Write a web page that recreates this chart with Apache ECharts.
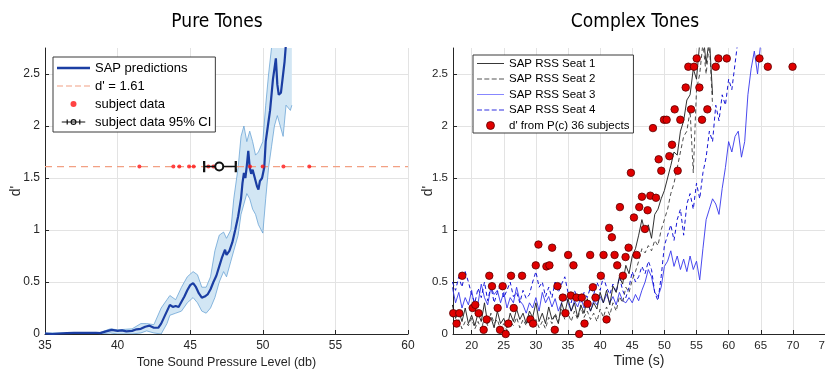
<!DOCTYPE html>
<html><head><meta charset="utf-8">
<script src="https://cdn.jsdelivr.net/npm/echarts@6/dist/echarts.min.js"></script>
<style>html,body{margin:0;padding:0;background:#fff;overflow:hidden}#c{width:825px;height:371px}</style>
</head><body><div id="c"></div><script>
// ---------- Left panel: Pure Tones ----------
const ptTicksX = [35, 40, 45, 50, 55, 60];
const dTicks = [0, 0.5, 1, 1.5, 2, 2.5];
const sapX = [35.0,35.5,36.0,36.5,37.0,37.5,38.0,38.5,38.8,39.2,
 39.6,40.0,40.3,40.6,41.0,41.3,41.6,41.9,42.2,42.5,
 42.8,43.0,43.2,43.4,43.6,43.8,44.0,44.2,44.4,44.6,
 44.8,45.0,45.2,45.4,45.6,45.8,46.0,46.2,46.4,46.6,
 46.8,47.0,47.2,47.4,47.5,47.7,47.9,48.1,48.3,48.5,
 48.6,48.7,48.8,48.9,49.0,49.1,49.2,49.3,49.45,49.6,
 49.7,49.8,49.95,50.1,50.2,50.35,50.5,50.6,50.7,50.8,
 50.9,51.0,51.1,51.25,51.4,51.5,51.6];
const sapY = [0.005,0.0,0.005,0.008,0.01,0.012,0.01,0.012,0.008,0.025,
 0.04,0.03,0.035,0.025,0.03,0.045,0.05,0.07,0.08,0.06,
 0.06,0.10,0.16,0.22,0.28,0.26,0.27,0.26,0.31,0.36,
 0.42,0.47,0.49,0.45,0.39,0.35,0.36,0.38,0.43,0.50,
 0.56,0.65,0.74,0.81,0.76,0.80,0.88,1.00,1.13,1.30,
 1.45,1.55,1.50,1.62,1.76,1.60,1.54,1.58,1.50,1.42,
 1.39,1.47,1.50,1.60,1.85,2.00,2.15,2.30,2.45,2.55,
 2.65,2.40,2.30,2.32,2.50,2.62,2.80];
const ciX = [35.0,38.8,39.5,40.0,41.0,41.6,42.0,42.5,43.0,43.4,43.6,44.0,44.4,44.8,45.2,45.5,45.8,46.1,46.4,46.7,47.0,47.3,47.5,47.8,48.0,48.3,48.5,48.7,48.9,49.1,49.3,49.5,49.7,50.0,50.2,50.4,50.6,50.8,51.0,51.2,51.4,51.6,51.9,52.0];
const ciLow = [0.0,0.0,0.01,0.0,0.0,0.01,0.03,0.01,0.0,0.10,0.18,0.20,0.22,0.30,0.35,0.30,0.22,0.20,0.25,0.35,0.50,0.60,0.55,0.70,0.80,0.95,1.15,1.25,1.35,1.30,1.20,1.15,1.05,0.97,1.30,1.60,1.80,2.00,2.10,2.00,1.90,2.20,2.15,2.20];
const ciHigh = [0.01,0.015,0.05,0.04,0.05,0.10,0.10,0.09,0.25,0.33,0.37,0.33,0.45,0.55,0.60,0.57,0.45,0.45,0.55,0.80,0.95,0.98,0.92,1.00,1.30,1.60,1.90,2.00,1.85,1.95,1.85,1.72,1.75,1.85,2.20,2.50,2.75,2.90,2.90,2.90,2.95,2.90,3.00,3.00];
const criterionD = 1.61;
const subjX = [41.5,43.84,44.25,44.92,45.24,46.25,46.6,49.12,49.99,51.42,53.2];
const subjMean = 47.0, subjCILow = 45.96, subjCIHigh = 48.14;

// ---------- Right panel: Complex Tones ----------
const ctTicksX = [20, 25, 30, 35, 40, 45, 50, 55, 60, 65, 70, 75];
const timeS = [17,17.5,18,18.5,19,19.5,20,20.5,21,21.5,22,22.5,23,23.5,24,24.5,25,25.5,26,26.5,27,27.5,28,28.5,29,29.5,30,30.5,31,31.5,32,32.5,33,33.5,34,34.5,35,35.5,36,36.5,37,37.5,38,38.5,39,39.5,40,40.5,41,41.5,42,42.5,43,43.5,44,44.5,45,45.5,46,46.5,47,47.5,48,48.5,49,49.5,50,50.5,51,51.5,52,52.5,53,53.5,54,54.5,55,55.5,56,56.5,57,57.5,58,58.5,59,59.5,60,60.5,61,61.5,62,62.5,63,63.5,64,64.5,65,65.5,66];
const seat1 = [0.28,0.15,0.22,0.12,0.25,0.10,0.18,0.08,0.20,0.12,
 0.30,0.10,0.16,0.06,0.22,0.10,0.15,0.06,0.20,0.12,
 0.24,0.14,0.20,0.10,0.22,0.16,0.30,0.12,0.20,0.10,
 0.26,0.14,0.18,0.10,0.30,0.20,0.34,0.22,0.30,0.16,
 0.28,0.20,0.34,0.22,0.30,0.24,0.40,0.30,0.42,0.28,
 0.46,0.40,0.55,0.48,0.66,0.58,0.75,0.82,0.95,1.10,
 0.98,1.05,0.92,1.15,1.20,1.30,1.38,1.50,1.62,1.75,
 1.72,1.95,2.05,2.25,2.30,2.55,2.45,2.80,2.90,2.60,
 2.85,2.30];
const seat2 = [0.18,0.10,0.14,0.05,0.12,0.08,0.15,0.05,0.12,0.04,
 0.16,0.08,0.20,0.10,0.14,0.04,0.10,0.03,0.12,0.08,
 0.16,0.06,0.14,0.08,0.18,0.10,0.14,0.06,0.12,0.05,
 0.16,0.10,0.20,0.12,0.24,0.14,0.20,0.12,0.22,0.14,
 0.26,0.16,0.22,0.14,0.20,0.12,0.24,0.16,0.26,0.18,
 0.30,0.22,0.36,0.30,0.45,0.40,0.52,0.60,0.70,0.82,
 0.78,0.85,0.80,0.90,0.85,1.00,1.10,1.20,1.35,1.45,
 1.60,1.75,1.90,1.95,2.15,1.55,2.35,2.50,2.80,2.50,
 2.80,2.20];
const seat3 = [0.45,0.30,0.40,0.25,0.35,0.28,0.42,0.25,0.30,0.48,
 0.35,0.28,0.45,0.38,0.42,0.30,0.40,0.25,0.35,0.30,
 0.45,0.32,0.28,0.20,0.30,0.25,0.35,0.22,0.40,0.30,
 0.36,0.26,0.34,0.22,0.30,0.38,0.30,0.22,0.32,0.26,
 0.35,0.25,0.30,0.22,0.32,0.28,0.36,0.30,0.38,0.30,
 0.36,0.28,0.40,0.32,0.30,0.35,0.30,0.38,0.32,0.42,
 0.50,0.62,0.55,0.40,0.36,0.45,0.65,0.70,0.80,0.65,
 0.75,0.62,0.72,0.60,0.75,0.62,0.70,0.52,0.82,1.10,
 1.20,1.30,1.25,1.15,1.40,1.60,1.85,1.75,1.90,1.95,
 1.70,1.85,2.30,2.55,2.72,2.50,2.80,2.90,2.90];
const seat4 = [0.50,0.42,0.55,0.45,0.60,0.50,0.38,0.30,0.44,0.35,
 0.50,0.32,0.46,0.30,0.40,0.48,0.35,0.42,0.50,0.36,
 0.40,0.30,0.42,0.34,0.38,0.50,0.60,0.45,0.50,0.36,
 0.45,0.35,0.50,0.40,0.48,0.55,0.40,0.30,0.42,0.34,
 0.30,0.40,0.35,0.45,0.38,0.50,0.42,0.55,0.45,0.38,
 0.48,0.40,0.55,0.42,0.35,0.45,0.60,0.50,0.55,0.65,
 0.58,0.70,0.62,0.40,0.32,0.55,0.85,0.95,1.05,0.90,
 1.10,1.20,0.95,1.25,1.35,1.20,1.45,1.30,1.55,1.70,
 1.95,1.85,2.20,2.05,2.30,2.20,2.45,2.35,2.60,2.85,
 2.90];
const dotT = [17.14,17.66,18.08,18.54,20.16,20.57,21.09,21.87,22.34,22.75,
 23.17,24.05,24.42,24.83,25.30,25.72,26.13,26.55,27.85,29.15,
 29.56,29.98,30.40,31.64,32.11,32.53,32.94,33.36,34.19,34.60,
 35.02,35.44,35.85,36.32,36.74,37.15,37.57,38.04,38.45,38.87,
 39.28,40.11,40.53,41.00,41.41,41.83,42.25,42.66,43.08,43.55,
 43.96,44.43,44.79,45.26,45.68,46.09,46.51,46.97,47.39,47.81,
 48.22,48.69,49.11,49.52,49.94,50.35,50.77,51.19,51.60,52.07,
 52.48,53.32,53.73,54.15,54.61,55.03,55.45,55.86,56.69,57.99,
 58.41,59.71,64.80,66.10,69.95];
const dotD = [0.20,0.10,0.20,0.56,0.25,0.28,0.20,0.04,0.14,0.56,
 0.46,0.25,0.04,0.46,0.00,0.10,0.56,0.25,0.56,0.14,
 0.10,0.66,0.86,0.65,0.66,0.83,0.04,0.46,0.35,0.20,
 0.76,0.37,0.66,0.35,0.00,0.35,0.10,0.29,0.76,0.45,
 0.35,0.56,0.76,0.14,1.02,0.93,0.76,0.66,1.22,0.56,
 0.74,0.83,1.55,1.12,0.76,1.22,1.32,1.01,1.19,1.33,
 1.98,1.31,1.68,1.57,2.06,2.06,1.71,1.82,2.16,1.57,
 2.06,2.37,2.57,2.16,2.57,2.65,2.37,2.06,2.16,2.57,
 2.65,2.65,2.65,2.57,2.57];

// ---------- build ----------
const pairs = (xs, ys) => xs.map((x, i) => [x, ys[i]]);
const onTime = (vals) => vals.map((v, i) => [timeS[i], v]);
const FONT = "'Liberation Sans', Arial, sans-serif";

function hasFont(f) {
  const ctx = document.createElement('canvas').getContext('2d');
  const s = 'Pure Tones Complex abcdefghijkmw';
  ctx.font = '40px monospace'; const w0 = ctx.measureText(s).width;
  ctx.font = "40px '" + f + "', monospace"; const w1 = ctx.measureText(s).width;
  return Math.abs(w1 - w0) > 0.5;
}
let TITLE_FONT = "'Liberation Sans', sans-serif", TITLE_SIZE = 19;
for (const f of ['Liberation Sans Narrow', 'Arial Narrow', 'DejaVu Sans Condensed', 'Roboto Condensed']) {
  if (hasFont(f)) { TITLE_FONT = "'" + f + "', sans-serif"; TITLE_SIZE = (f === 'DejaVu Sans Condensed') ? 19 : 22; break; }
}

const AX = '#262626', GRIDC = '#e3e3e3';

function xAxisCfg(grid, min, max, ticks, name, nameGap, nameSize, labelSize) {
  return {
    type: 'value', gridIndex: grid, min: min, max: max,
    name: name, nameLocation: 'middle', nameGap: nameGap, nameMoveOverlap: false,
    nameTextStyle: { fontFamily: FONT, fontSize: nameSize, color: AX },
    axisLine: { show: true, onZero: false, lineStyle: { color: AX, width: 1 } },
    axisTick: { show: true, inside: true, length: 4, customValues: ticks, lineStyle: { color: AX } },
    axisLabel: { customValues: ticks, fontFamily: FONT, fontSize: labelSize, color: AX, margin: 6 },
    splitLine: { show: true, lineStyle: { color: GRIDC, width: 1 } }
  };
}
function yAxisCfg(grid, nameGap, labelSize) {
  return {
    type: 'value', gridIndex: grid, min: 0, max: 2.75,
    name: "d'", nameLocation: 'middle', nameGap: nameGap, nameRotate: 90, nameMoveOverlap: false,
    nameTextStyle: { fontFamily: FONT, fontSize: 14, color: AX },
    axisLine: { show: true, onZero: false, lineStyle: { color: AX, width: 1 } },
    axisTick: { show: true, inside: true, length: 4, customValues: dTicks, lineStyle: { color: AX } },
    axisLabel: { customValues: dTicks, fontFamily: FONT, fontSize: labelSize, color: AX, margin: 5 },
    splitLine: { show: true, lineStyle: { color: GRIDC, width: 1 } }
  };
}

const SAPBLUE = '#1b3ea3', EDGE = '#5c9bd1', FILL = '#d2e6f4', SALMON = '#f2a083';

function renderBand(params, api) {
  if (params.dataIndex !== 0) return null;
  const up = ciX.map((x, i) => api.coord([x, ciHigh[i]]));
  const lo = ciX.map((x, i) => api.coord([x, ciLow[i]]));
  const cs = params.coordSys;
  return {
    type: 'group',
    clipPath: { type: 'rect', shape: { x: cs.x, y: cs.y, width: cs.width, height: cs.height } },
    children: [
      { type: 'polygon', shape: { points: up.concat(lo.slice().reverse()) }, style: { fill: FILL, stroke: null } },
      { type: 'polyline', shape: { points: up }, style: { fill: null, stroke: EDGE, lineWidth: 0.7 } },
      { type: 'polyline', shape: { points: lo }, style: { fill: null, stroke: EDGE, lineWidth: 0.7 } }
    ]
  };
}

const option = {
  animation: false,
  backgroundColor: '#fff',
  title: [
    { text: 'Pure Tones', left: 212, top: 8, textAlign: 'center',
      textStyle: { fontFamily: TITLE_FONT, fontSize: TITLE_SIZE, fontWeight: 'normal', color: '#000' } },
    { text: 'Complex Tones', left: 630, top: 8, textAlign: 'center',
      textStyle: { fontFamily: TITLE_FONT, fontSize: TITLE_SIZE, fontWeight: 'normal', color: '#000' } }
  ],
  grid: [
    { left: 45, right: 417, top: 48, bottom: 37, containLabel: false, outerBoundsMode: 'none' },
    { left: 453, right: 0, top: 48, bottom: 37, containLabel: false, outerBoundsMode: 'none' }
  ],
  xAxis: [
    xAxisCfg(0, 35, 60, ptTicksX, 'Tone Sound Pressure Level (db)', 22, 12.5, 12),
    xAxisCfg(1, 17.1, 75, ctTicksX, 'Time (s)', 20, 14, 11.5)
  ],
  yAxis: [ yAxisCfg(0, 22, 12), yAxisCfg(1, 18, 11.5) ],
  legend: [
    {
      orient: 'vertical', left: 53, top: 57, padding: [4, 4, 3, 4], itemGap: 4,
      itemWidth: 33, itemHeight: 6, symbolKeepAspect: true,
      backgroundColor: '#fff', borderColor: '#3a3a3a', borderWidth: 1, borderRadius: 0,
      textStyle: { fontFamily: FONT, fontSize: 13, color: '#000', lineHeight: 14 },
      data: [
        { name: 'SAP predictions', icon: 'path://M0,0H33V2.4H0Z', itemStyle: { color: SAPBLUE, borderWidth: 0 } },
        { name: "d' = 1.61", icon: 'path://M0,0H6V1.2H0Z M9,0H15V1.2H9Z M18,0H24V1.2H18Z M27,0H33V1.2H27Z', itemStyle: { color: SALMON, borderWidth: 0 } },
        { name: 'subject data', icon: 'circle', itemStyle: { color: '#ff1414', borderWidth: 0 } },
        { name: 'subject data 95% CI', icon: 'path://M2,3.5H31V4.5H2Z M8,1H9.5V7H8Z M23.5,1H25V7H23.5Z M12.8,4A3.7,3.7 0 1,1 20.2,4A3.7,3.7 0 1,1 12.8,4Z M14.2,4A2.3,2.3 0 1,0 18.8,4A2.3,2.3 0 1,0 14.2,4Z', itemStyle: { color: '#111', borderWidth: 0 } }
      ]
    },
    {
      orient: 'vertical', left: 473, top: 55, padding: [2, 4, 1, 4], itemGap: 2.5,
      itemWidth: 27, itemHeight: 8, symbolKeepAspect: true,
      backgroundColor: '#fff', borderColor: '#3a3a3a', borderWidth: 1, borderRadius: 0,
      textStyle: { fontFamily: FONT, fontSize: 11.5, color: '#000', lineHeight: 13 },
      data: [
        { name: 'SAP RSS Seat 1', icon: 'path://M0,0H27V0.9H0Z', itemStyle: { color: '#222', borderWidth: 0 } },
        { name: 'SAP RSS Seat 2', icon: 'path://M0,0H5V0.9H0Z M7.3,0H12.3V0.9H7.3Z M14.7,0H19.7V0.9H14.7Z M22,0H27V0.9H22Z', itemStyle: { color: '#555', borderWidth: 0 } },
        { name: 'SAP RSS Seat 3', icon: 'path://M0,0H27V0.9H0Z', itemStyle: { color: '#7a7aff', borderWidth: 0 } },
        { name: 'SAP RSS Seat 4', icon: 'path://M0,0H5V0.9H0Z M7.3,0H12.3V0.9H7.3Z M14.7,0H19.7V0.9H14.7Z M22,0H27V0.9H22Z', itemStyle: { color: '#3030e0', borderWidth: 0 } },
        { name: "d' from P(c) 36 subjects", icon: 'circle', itemStyle: { color: '#e00000', borderColor: '#5a0000', borderWidth: 0.8 } }
      ]
    }
  ],
  series: [
    { name: 'ciBand', type: 'custom', xAxisIndex: 0, yAxisIndex: 0, silent: true, z: 1,
      data: ciX.map((x, i) => [x, ciLow[i], ciHigh[i]]),
      encode: { x: 0, y: [1, 2] },
      renderItem: renderBand },
    { name: "d' = 1.61", type: 'line', xAxisIndex: 0, yAxisIndex: 0, data: [[35, criterionD], [60, criterionD]],
      symbol: 'none', z: 2, lineStyle: { color: SALMON, width: 1.2, type: [7, 5] } },
    { name: 'SAP predictions', type: 'line', xAxisIndex: 0, yAxisIndex: 0, data: pairs(sapX, sapY),
      symbol: 'none', z: 3, lineStyle: { color: SAPBLUE, width: 2.2 } },
    { name: 'subject data', type: 'scatter', xAxisIndex: 0, yAxisIndex: 0, data: subjX.map(x => [x, criterionD]),
      symbol: 'circle', symbolSize: 4, z: 4, itemStyle: { color: '#ff1414' } },
    { name: 'subject data 95% CI', type: 'line', xAxisIndex: 0, yAxisIndex: 0, z: 5,
      data: [
        { value: [subjCILow, criterionD], symbol: 'rect', symbolSize: [1.6, 8] },
        { value: [subjMean, criterionD], symbol: 'emptyCircle', symbolSize: 8 },
        { value: [subjCIHigh, criterionD], symbol: 'rect', symbolSize: [1.6, 8] }
      ],
      showAllSymbol: true, symbol: 'emptyCircle',
      lineStyle: { color: '#111', width: 1.6 }, itemStyle: { color: '#111', borderColor: '#111', borderWidth: 1.5 } },

    { name: 'SAP RSS Seat 1', type: 'line', xAxisIndex: 1, yAxisIndex: 1, data: onTime(seat1),
      symbol: 'none', z: 3, lineStyle: { color: '#1a1a1a', width: 0.9 } },
    { name: 'SAP RSS Seat 2', type: 'line', xAxisIndex: 1, yAxisIndex: 1, data: onTime(seat2),
      symbol: 'none', z: 3, lineStyle: { color: '#3a3a3a', width: 0.9, type: [4, 3] } },
    { name: 'SAP RSS Seat 3', type: 'line', xAxisIndex: 1, yAxisIndex: 1, data: onTime(seat3),
      symbol: 'none', z: 2, lineStyle: { color: '#3535ec', width: 0.9 } },
    { name: 'SAP RSS Seat 4', type: 'line', xAxisIndex: 1, yAxisIndex: 1, data: onTime(seat4),
      symbol: 'none', z: 2, lineStyle: { color: '#1515d5', width: 1, type: [4, 3] } },
    { name: "d' from P(c) 36 subjects", type: 'scatter', xAxisIndex: 1, yAxisIndex: 1, data: pairs(dotT, dotD),
      symbol: 'circle', symbolSize: 7.5, z: 6,
      itemStyle: { color: '#e00000', borderColor: '#5a0000', borderWidth: 0.8, opacity: 1 } }
  ]
};
const chart = echarts.init(document.getElementById('c'), null, { renderer: 'canvas' });
chart.setOption(option);
</script></body></html>
